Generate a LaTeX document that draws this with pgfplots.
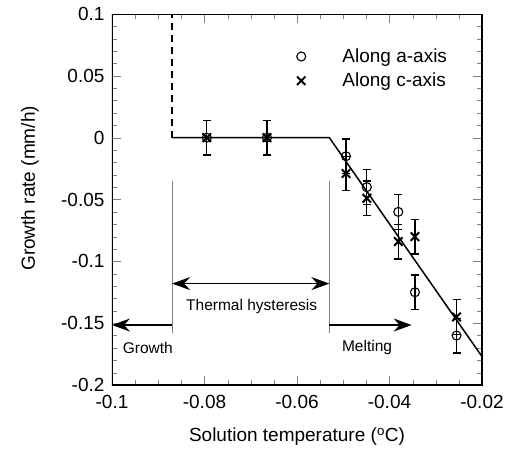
\documentclass[border=0pt]{standalone}
\usepackage{fontspec}
\setmainfont{Liberation Sans}
\usepackage{pgfplots}
\pgfplotsset{compat=1.18}
\usetikzlibrary{arrows.meta}
\pgfplotstableread{
x y e
-0.0795 0 0.014
-0.0665 0 0.014
-0.0494 -0.015 0.014
-0.0449 -0.040 0.014
-0.0381 -0.060 0.014
-0.0345 -0.125 0.014
-0.0255 -0.160 0.014
}\aaxis
\pgfplotstableread{
x y e
-0.0795 0 0.014
-0.0665 0 0.014
-0.0494 -0.029 0.014
-0.0449 -0.049 0.014
-0.0381 -0.084 0.014
-0.0345 -0.080 0.014
-0.0255 -0.145 0.014
}\caxis
\begin{document}
\begin{tikzpicture}
\useasboundingbox (-112pt,-66pt) rectangle (394pt,385pt);
\begin{axis}[
  at={(0pt,0pt)}, anchor=south west,
  scale only axis, width=370pt, height=371pt,
  xmin=-0.1, xmax=-0.02, ymin=-0.2, ymax=0.1,
  xtick={-0.1,-0.08,-0.06,-0.04,-0.02},
  xticklabels={-0.1,-0.08,-0.06,-0.04,-0.02},
  ytick={-0.2,-0.15,-0.1,-0.05,0,0.05,0.1},
  yticklabels={-0.2,-0.15,-0.1,-0.05,0,0.05,0.1},
  minor x tick num=3, minor y tick num=4,
  tick align=inside, tick pos=both,
  major tick length=9pt, minor tick length=5pt,
  /pgf/number format/assume math mode=true,
  xticklabel style={font=\fontsize{19}{21}\selectfont, yshift=-7pt},
  yticklabel style={font=\fontsize{19}{21}\selectfont, xshift=-4pt},
  xlabel={Solution temperature (\textsuperscript{o}C)},
  ylabel={Growth rate (mm/h)},
  xlabel style={font=\fontsize{19}{21}\selectfont, at={(axis description cs:0.5,-0.14)}, anchor=center},
  ylabel style={font=\fontsize{19}{21}\selectfont, at={(axis description cs:-0.222,0.53)}, anchor=center},
  legend style={draw=none, fill=none, inner sep=0pt, row sep=5pt,
    font=\fontsize{19}{21}\selectfont, at={(rel axis cs:0.478,0.912)}, anchor=north west},
  legend cell align=left,
  legend image code/.code={\draw[#1] plot coordinates {(0pt,0pt)}; \path (-12pt,0pt) (39pt,0pt);},
]
% fitted line
\addplot[black, line width=1.5pt, dash pattern=on 7pt off 5pt, forget plot] coordinates {(-0.087,0) (-0.087,0.1)};
\addplot[black, line width=1.5pt, forget plot] coordinates {(-0.087,0) (-0.053,0) (-0.02,-0.177)};
% gray guide lines
\addplot[gray, line width=0.9pt, forget plot] coordinates {(-0.087,-0.035) (-0.087,-0.158)};
\addplot[gray, line width=0.9pt, forget plot] coordinates {(-0.053,-0.035) (-0.053,-0.158)};
% data
\addplot[black, only marks, mark=o, mark size=4.5pt, mark options={line width=1.1pt}, forget plot,
  error bars/.cd, y dir=both, y explicit,
  error bar style={line width=1.3pt}, error mark options={rotate=90, mark size=4pt, line width=1.3pt}]
  table[x=x, y=y, y error=e] {\aaxis};
\addplot[black, only marks, mark=x, mark size=6pt, mark options={line width=2pt}, forget plot,
  error bars/.cd, y dir=both, y explicit,
  error bar style={line width=1.3pt}, error mark options={rotate=90, mark size=4pt, line width=1.3pt}]
  table[x=x, y=y, y error=e] {\caxis};
\addlegendimage{black, only marks, mark=o, mark size=4.5pt, mark options={line width=1.1pt}}
\addlegendentry{Along a-axis}
\addlegendimage{black, only marks, mark=x, mark size=6pt, mark options={line width=2pt}}
\addlegendentry{Along c-axis}
% frame
\draw[line width=1.6pt] (rel axis cs:0,0) rectangle (rel axis cs:1,1);
% annotations
\draw[{Stealth[length=18pt,width=13pt,inset=6pt]}-{Stealth[length=18pt,width=13pt,inset=6pt]}, line width=1.2pt]
  (axis cs:-0.087,-0.118) -- (axis cs:-0.053,-0.118);
\draw[-{Stealth[length=18pt,width=13pt,inset=6pt]}, line width=1.2pt]
  (axis cs:-0.087,-0.1515) -- (axis cs:-0.1,-0.1515);
\draw[-{Stealth[length=18pt,width=13pt,inset=6pt]}, line width=1.2pt]
  (axis cs:-0.053,-0.1515) -- (axis cs:-0.0352,-0.1515);
\node[font=\fontsize{15.5}{17}\selectfont, inner sep=0pt] at (axis cs:-0.0698,-0.1368) {Thermal hysteresis};
\node[font=\fontsize{15.5}{17}\selectfont, inner sep=0pt, anchor=west] at (axis cs:-0.0977,-0.170) {Growth};
\node[font=\fontsize{15.5}{17}\selectfont, inner sep=0pt, anchor=west] at (axis cs:-0.0503,-0.170) {Melting};
\end{axis}
\end{tikzpicture}
\end{document}
